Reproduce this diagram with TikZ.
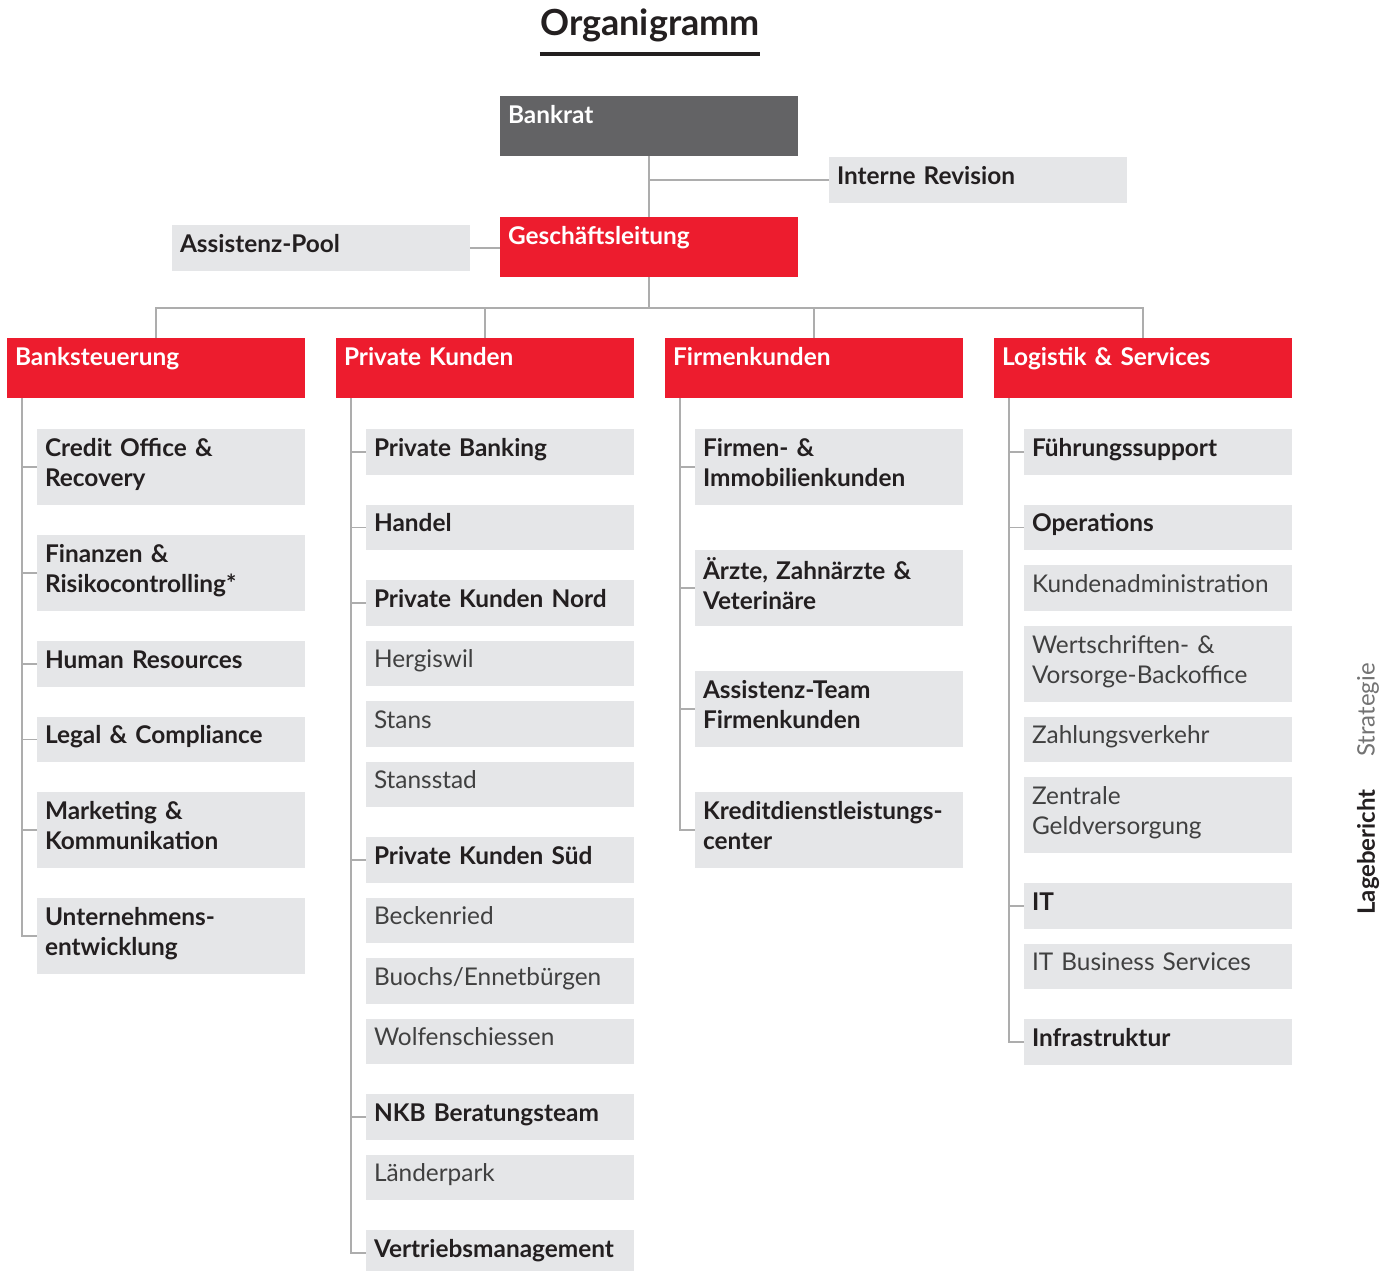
\documentclass[tikz,border=0pt]{standalone}
\usepackage{fontspec}
\setmainfont{Lato}
\usetikzlibrary{positioning}
\definecolor{nkbred}{HTML}{ED1C2E}
\definecolor{nkbdark}{HTML}{636365}
\definecolor{nkbgray}{HTML}{E5E6E8}
\definecolor{nkbline}{HTML}{ADADAD}
\definecolor{nkbtext}{HTML}{231F20}

\begin{document}
\begin{tikzpicture}[x=0.5pt,y=-0.5pt,
  box/.style={anchor=north west,align=left,inner xsep=4pt,inner ysep=0pt,outer sep=0pt,
              text width=126pt,text depth=4.5pt,minimum height=22.75pt,fill=nkbgray},
  tall/.style={minimum height=38pt,text depth=19.5pt},
  unit/.style={box,text=nkbtext,font=\fontsize{12.2}{15}\selectfont\bfseries},
  branch/.style={box,text=black!75,font=\fontsize{12.2}{15}\selectfont},
  head/.style={box,text width=141pt,minimum height=30pt,text depth=11.5pt,fill=nkbred,
               text=white,font=\fontsize{12.2}{15}\selectfont\bfseries},
  link/.style={draw=nkbline,line width=0.75pt}]
\useasboundingbox (0,0) rectangle (1395,1270);

% title
\node[inner sep=0pt,anchor=base,text=nkbtext,
      font=\fontsize{18}{20}\selectfont\bfseries] (title) at (650,35) {Organigramm};
\draw[line width=2pt,nkbtext] ([yshift=-9.5pt]title.base west) -- ([yshift=-9.5pt]title.base east);

% top level
\node[head,fill=nkbdark] (br) at (500,96) {Bankrat};
\node[unit,text width=141pt] (ir) at (829,157) {Interne Revision};
\node[head] (gl) at (500,217) {Geschäftsleitung};
\node[unit,text width=141pt] (ap) at (172,225) {Assistenz-Pool};

% departments
\node[head] (bs) at (7,338) {Banksteuerung};
\node[head] (pk) at (336,338) {Private Kunden};
\node[head] (fk) at (665,338) {Firmenkunden};
\node[head] (ls) at (994,338) {Logistik \& Services};

% Banksteuerung
\node[unit,tall,below right=15.5pt and 15pt of bs.south west] (co) {Credit Office \&\\Recovery};
\node[unit,tall,below=15pt of co] (fr) {Finanzen \&\\Risikocontrolling*};
\node[unit,below=15pt of fr] (hr) {Human Resources};
\node[unit,below=15pt of hr] (lc) {Legal \& Compliance};
\node[unit,tall,below=15pt of lc] (mk) {Marketing \&\\Kommunikation};
\node[unit,tall,below=15pt of mk] (ue) {Unternehmens-\\entwicklung};

% Private Kunden
\node[unit,below right=15.5pt and 15pt of pk.south west] (pb) {Private Banking};
\node[unit,below=15pt of pb] (ha) {Handel};
\node[unit,below=15pt of ha] (pn) {Private Kunden Nord};
\node[branch,below=7.5pt of pn] (hg) {Hergiswil};
\node[branch,below=7.5pt of hg] (sn) {Stans};
\node[branch,below=7.5pt of sn] (sd) {Stansstad};
\node[unit,below=15pt of sd] (ps) {Private Kunden Süd};
\node[branch,below=7.5pt of ps] (be) {Beckenried};
\node[branch,below=7.5pt of be] (bu) {Buochs/Ennetbürgen};
\node[branch,below=7.5pt of bu] (wo) {Wolfenschiessen};
\node[unit,below=15pt of wo] (nb) {NKB Beratungsteam};
\node[branch,below=7.5pt of nb] (la) {Länderpark};
\node[unit,below=15pt of la] (vm) {Vertriebsmanagement};

% Firmenkunden
\node[unit,tall,below right=15.5pt and 15pt of fk.south west] (fi) {Firmen- \&\\Immobilienkunden};
\node[unit,tall,below=22.5pt of fi] (ae) {Ärzte, Zahnärzte \&\\Veterinäre};
\node[unit,tall,below=22.5pt of ae] (at) {Assistenz-Team\\Firmenkunden};
\node[unit,tall,below=22.5pt of at] (kd) {Kreditdienstleistungs-\\center};

% Logistik & Services
\node[unit,below right=15.5pt and 15pt of ls.south west] (fs) {Führungssupport};
\node[unit,below=15pt of fs] (op) {Operations};
\node[branch,below=7.5pt of op] (ka) {Kundenadministration};
\node[branch,tall,below=7.5pt of ka] (wb) {Wertschriften- \&\\Vorsorge-Backoffice};
\node[branch,below=7.5pt of wb] (zv) {Zahlungsverkehr};
\node[branch,tall,below=7.5pt of zv] (zg) {Zentrale\\Geldversorgung};
\node[unit,below=15pt of zg] (it) {IT};
\node[branch,below=7.5pt of it] (ib) {IT Business Services};
\node[unit,below=15pt of ib] (in) {Infrastruktur};

% side register
\node[rotate=90,text=black!55,font=\fontsize{12}{14}\selectfont] (strat) at (1368,710) {Strategie};
\node[rotate=90,text=nkbtext,font=\fontsize{12}{14}\selectfont\bfseries] (lage) at (1368,852) {Lagebericht};

% lines between the levels
\draw[link] (br.south) -- (gl.north);
\draw[link] (br.south |- ir.west) -- (ir.west);
\draw[link] (ap.east) -- (gl.west |- ap.east);
\coordinate (bus) at ([yshift=-15.5pt]gl.south);
\draw[link] (gl.south) -- (bus);
\draw[link] (bs.north) |- (ls.north |- bus) -- (ls.north);
\draw[link] (pk.north) -- (pk.north |- bus);
\draw[link] (fk.north) -- (fk.north |- bus);

% column spines
\coordinate (bsline) at ([xshift=7.5pt]bs.south west);
\coordinate (pkline) at ([xshift=7.5pt]pk.south west);
\coordinate (fkline) at ([xshift=7.5pt]fk.south west);
\coordinate (lsline) at ([xshift=7.5pt]ls.south west);
\draw[link] (bsline) |- (ue.west);
\draw[link] (pkline) |- (vm.west);
\draw[link] (fkline) |- (kd.west);
\draw[link] (lsline) |- (in.west);
\foreach \n in {co,fr,hr,lc,mk} \draw[link] (bsline |- \n.west) -- (\n.west);
\foreach \n in {pb,ha,pn,ps,nb} \draw[link] (pkline |- \n.west) -- (\n.west);
\foreach \n in {fi,ae,at} \draw[link] (fkline |- \n.west) -- (\n.west);
\foreach \n in {fs,op,it} \draw[link] (lsline |- \n.west) -- (\n.west);
\end{tikzpicture}
\end{document}
